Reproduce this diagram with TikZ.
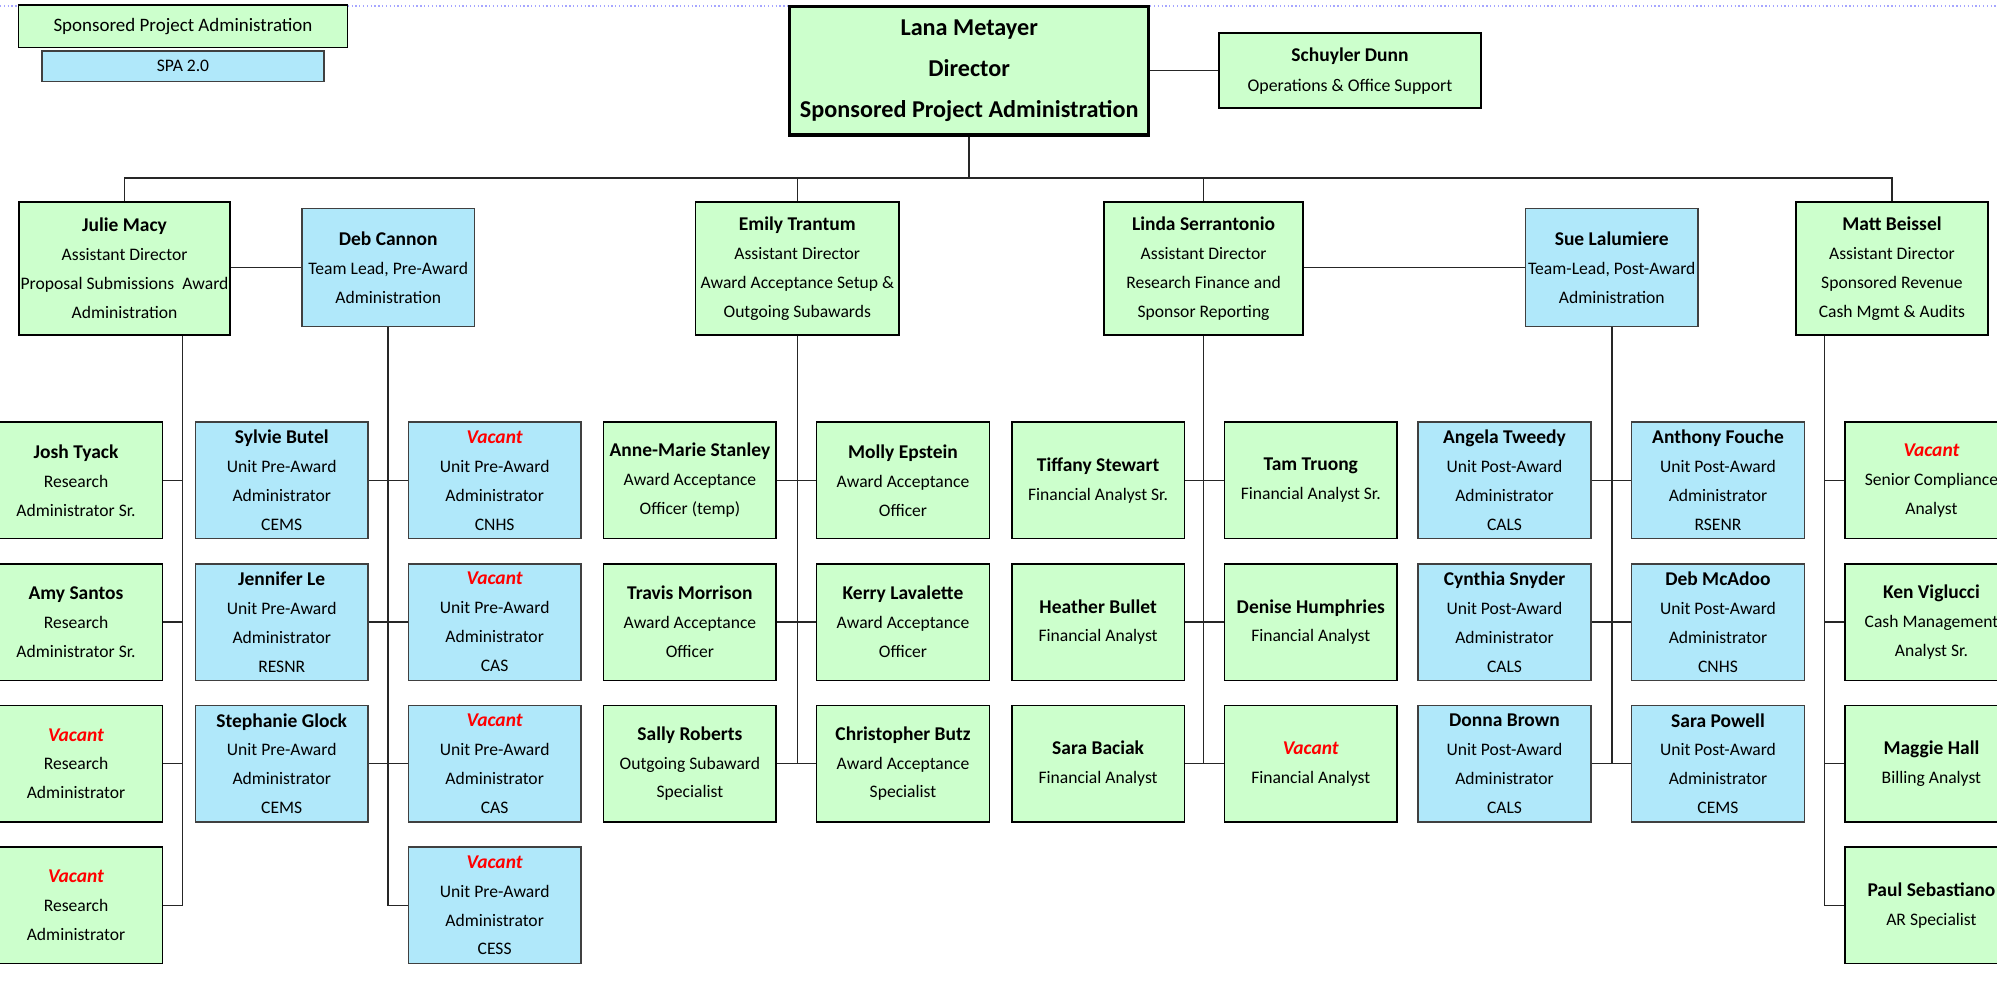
\documentclass[tikz,border=0pt]{standalone}
\usepackage{fontspec}
\setmainfont{Carlito}
\usetikzlibrary{positioning}

\definecolor{boxgreen}{RGB}{204,255,204}
\definecolor{boxblue}{RGB}{176,232,250}
\newcommand{\who}[1]{{\bfseries\fontsize{15.3}{22.7}\selectfont #1}}
\newcommand{\vac}{{\color{red}\bfseries\itshape\fontsize{15.3}{22.7}\selectfont Vacant}}

\begin{document}
\begin{tikzpicture}[x=1pt,y=-1pt,
	greenbox/.style={draw=black,fill=boxgreen,line width=1.2pt,align=center,inner sep=0pt,minimum width=135.5pt,minimum height=91.5pt,font=\fontsize{13.8}{22.7}\selectfont},
	bluebox/.style={greenbox,fill=boxblue,draw=black!75},
	adbox/.style={greenbox,minimum height=104.3pt},
	conn/.style={line width=1.2pt,black!85}]
		\useasboundingbox (0,0) rectangle (1568,774.2);
		\draw[dotted,line width=1pt,blue!35] (0,4.7) -- (1568,4.7);

		% top
		\node[greenbox,minimum width=258.6pt,minimum height=33.5pt,font=\fontsize{14.9}{18}\selectfont] (spa) at (143.7,20.7) {Sponsored Project Administration};
		\node[bluebox,minimum width=221.4pt,minimum height=24pt,font=\fontsize{13.8}{18}\selectfont] (spa2) at (143.7,52) {SPA 2.0};
		\node[greenbox,line width=2.4pt,minimum width=282pt,minimum height=101pt,font=\bfseries\fontsize{19}{32.5}\selectfont] (dir) at (761,55.5) {Lana Metayer\\Director\\Sponsored Project Administration};
		\node[greenbox,minimum width=206pt,minimum height=59pt,font=\fontsize{14}{23.5}\selectfont] (sd) at (1060,55.5) {\who{Schuyler Dunn}\\Operations \& Office Support};

		% assistant directors and team leads
		\node[adbox,minimum width=165.6pt] (julie) at (97.8,210.8) {\who{Julie Macy}\\Assistant Director\\Proposal Submissions\ \ Award\\Administration};
		\node[bluebox,minimum height=92.5pt] (deb) at (304.8,210) {\who{Deb Cannon}\\Team Lead, Pre-Award\\Administration};
		\node[adbox,minimum width=160pt] (emily) at (626,210.8) {\who{Emily Trantum}\\Assistant Director\\Award Acceptance Setup \&\\Outgoing Subawards};
		\node[adbox,minimum width=156pt] (linda) at (945,210.8) {\who{Linda Serrantonio}\\Assistant Director\\Research Finance and\\Sponsor Reporting};
		\node[bluebox,minimum height=92.5pt] (sue) at (1265.5,210) {\who{Sue Lalumiere}\\Team-Lead, Post-Award\\Administration};
		\node[adbox,minimum width=151pt] (matt) at (1485.5,210.8) {\who{Matt Beissel}\\Assistant Director\\Sponsored Revenue\\Cash Mgmt \& Audits};

		% Julie Macy
		\node[greenbox] (j1) at (59.7,377.2) {\who{Josh Tyack}\\Research\\Administrator Sr.};
		\node[greenbox] (j2) [below=18.5pt of j1] {\who{Amy Santos}\\Research\\Administrator Sr.};
		\node[greenbox] (j3) [below=18.5pt of j2] {\vac\\Research\\Administrator};
		\node[greenbox] (j4) [below=18.5pt of j3] {\vac\\Research\\Administrator};

		% Deb Cannon
		\node[bluebox] (dl1) at (221.2,377.2) {\who{Sylvie Butel}\\Unit Pre-Award\\Administrator\\CEMS};
		\node[bluebox] (dl2) [below=18.5pt of dl1] {\who{Jennifer Le}\\Unit Pre-Award\\Administrator\\RESNR};
		\node[bluebox] (dl3) [below=18.5pt of dl2] {\who{Stephanie Glock}\\Unit Pre-Award\\Administrator\\CEMS};
		\node[bluebox] (dr1) at (388.4,377.2) {\vac\\Unit Pre-Award\\Administrator\\CNHS};
		\node[bluebox] (dr2) [below=18.5pt of dr1] {\vac\\Unit Pre-Award\\Administrator\\CAS};
		\node[bluebox] (dr3) [below=18.5pt of dr2] {\vac\\Unit Pre-Award\\Administrator\\CAS};
		\node[bluebox] (dr4) [below=18.5pt of dr3] {\vac\\Unit Pre-Award\\Administrator\\CESS};

		% Emily Trantum
		\node[greenbox] (el1) at (541.7,377.2) {\who{Anne-Marie Stanley}\\Award Acceptance\\Officer (temp)};
		\node[greenbox] (el2) [below=18.5pt of el1] {\who{Travis Morrison}\\Award Acceptance\\Officer};
		\node[greenbox] (el3) [below=18.5pt of el2] {\who{Sally Roberts}\\Outgoing Subaward\\Specialist};
		\node[greenbox] (er1) at (709,377.2) {\who{Molly Epstein}\\Award Acceptance\\Officer};
		\node[greenbox] (er2) [below=18.5pt of er1] {\who{Kerry Lavalette}\\Award Acceptance\\Officer};
		\node[greenbox] (er3) [below=18.5pt of er2] {\who{Christopher Butz}\\Award Acceptance\\Specialist};

		% Linda Serrantonio
		\node[greenbox] (ll1) at (862.2,377.2) {\who{Tiffany Stewart}\\Financial Analyst Sr.};
		\node[greenbox] (ll2) [below=18.5pt of ll1] {\who{Heather Bullet}\\Financial Analyst};
		\node[greenbox] (ll3) [below=18.5pt of ll2] {\who{Sara Baciak}\\Financial Analyst};
		\node[greenbox] (lr1) at (1029.2,377.2) {\who{Tam Truong}\\Financial Analyst Sr.};
		\node[greenbox] (lr2) [below=18.5pt of lr1] {\who{Denise Humphries}\\Financial Analyst};
		\node[greenbox] (lr3) [below=18.5pt of lr2] {\vac\\Financial Analyst};

		% Sue Lalumiere
		\node[bluebox] (sl1) at (1181.3,377.2) {\who{Angela Tweedy}\\Unit Post-Award\\Administrator\\CALS};
		\node[bluebox] (sl2) [below=18.5pt of sl1] {\who{Cynthia Snyder}\\Unit Post-Award\\Administrator\\CALS};
		\node[bluebox] (sl3) [below=18.5pt of sl2] {\who{Donna Brown}\\Unit Post-Award\\Administrator\\CALS};
		\node[bluebox] (sr1) at (1348.9,377.2) {\who{Anthony Fouche}\\Unit Post-Award\\Administrator\\RSENR};
		\node[bluebox] (sr2) [below=18.5pt of sr1] {\who{Deb McAdoo}\\Unit Post-Award\\Administrator\\CNHS};
		\node[bluebox] (sr3) [below=18.5pt of sr2] {\who{Sara Powell}\\Unit Post-Award\\Administrator\\CEMS};

		% Matt Beissel
		\node[greenbox] (m1) at (1516.5,377.2) {\vac\\Senior Compliance\\Analyst};
		\node[greenbox] (m2) [below=18.5pt of m1] {\who{Ken Viglucci}\\Cash Management\\Analyst Sr.};
		\node[greenbox] (m3) [below=18.5pt of m2] {\who{Maggie Hall}\\Billing Analyst};
		\node[greenbox] (m4) [below=18.5pt of m3] {\who{Paul Sebastiano}\\AR Specialist};

		\draw[conn] (dir.east) -- (sd.west);
		\draw[conn] (dir.south) -- ++(0,32.5) coordinate (bus);
		\draw[conn] (julie.north) |- (bus) -| (matt.north);
		\draw[conn] (emily.north) -- (emily.north |- bus);
		\draw[conn] (linda.north) -- (linda.north |- bus);
		\draw[conn] (julie.east |- deb.west) -- (deb.west);
		\draw[conn] (linda.east |- sue.west) -- (sue.west);

		\coordinate (jt) at ([xshift=45.5pt]julie.south);
		\draw[conn] (jt) |- (j4.east);
		\foreach \r in {1,2,3} \draw[conn] (j\r.east) -- (j\r.east -| jt);
		\draw[conn] (deb.south) |- (dr4.west);
		\foreach \r in {1,2,3} \draw[conn] (dl\r.east) -- (dr\r.west);
		\draw[conn] (emily.south) -- (emily.south |- el3.east);
		\foreach \r in {1,2,3} \draw[conn] (el\r.east) -- (er\r.west);
		\draw[conn] (linda.south) -- (linda.south |- ll3.east);
		\foreach \r in {1,2,3} \draw[conn] (ll\r.east) -- (lr\r.west);
		\draw[conn] (sue.south) -- (sue.south |- sl3.east);
		\foreach \r in {1,2,3} \draw[conn] (sl\r.east) -- (sr\r.west);
		\coordinate (mt) at ([xshift=-52.9pt]matt.south);
		\draw[conn] (mt) |- (m4.west);
		\foreach \r in {1,2,3} \draw[conn] (m\r.west) -- (m\r.west -| mt);
	\end{tikzpicture}
\end{document}
